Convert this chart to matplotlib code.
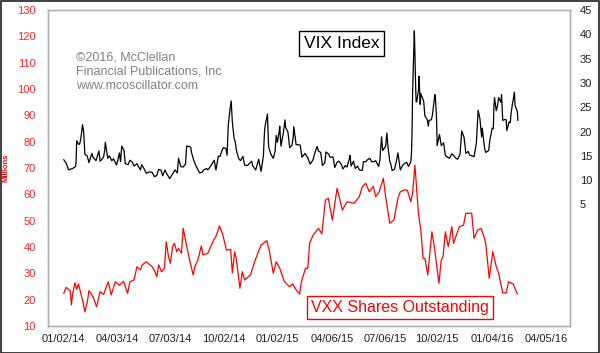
import matplotlib
matplotlib.use("Agg")
import matplotlib.pyplot as plt
import matplotlib.dates as mdates
from matplotlib.patches import Rectangle
import pandas as pd

plt.rcParams['font.family'] = ['Liberation Sans', 'DejaVu Sans']

# ---------------- data ----------------
vix_dates = [
    "2014-01-02","2014-01-06","2014-01-08","2014-01-10","2014-01-14","2014-01-17","2014-01-22","2014-01-23",
    "2014-01-24","2014-01-27","2014-01-29","2014-01-31","2014-02-03","2014-02-05","2014-02-07","2014-02-11",
    "2014-02-14","2014-02-19","2014-02-21","2014-02-26","2014-03-03","2014-03-05","2014-03-07","2014-03-11",
    "2014-03-13","2014-03-14","2014-03-18","2014-03-21","2014-03-25","2014-03-28","2014-04-02","2014-04-04",
    "2014-04-07","2014-04-09","2014-04-11","2014-04-15","2014-04-17","2014-04-22","2014-04-25","2014-04-29",
    "2014-05-02","2014-05-07","2014-05-09","2014-05-13","2014-05-15","2014-05-19","2014-05-23","2014-05-28",
    "2014-06-02","2014-06-06","2014-06-10","2014-06-13","2014-06-17","2014-06-20","2014-06-24","2014-06-27",
    "2014-07-02","2014-07-07","2014-07-11","2014-07-15","2014-07-17","2014-07-21","2014-07-25","2014-07-29",
    "2014-07-31","2014-08-01","2014-08-05","2014-08-07","2014-08-08","2014-08-12","2014-08-15","2014-08-19",
    "2014-08-22","2014-08-26","2014-08-29","2014-09-03","2014-09-05","2014-09-10","2014-09-12","2014-09-16",
    "2014-09-19","2014-09-23","2014-09-26","2014-09-30","2014-10-02","2014-10-06","2014-10-08","2014-10-10",
    "2014-10-13","2014-10-15","2014-10-17","2014-10-20","2014-10-22","2014-10-24","2014-10-28","2014-10-31",
    "2014-11-04","2014-11-07","2014-11-12","2014-11-14","2014-11-19","2014-11-21","2014-11-26","2014-12-01",
    "2014-12-05","2014-12-09","2014-12-11","2014-12-12","2014-12-16","2014-12-18","2014-12-22","2014-12-26",
    "2014-12-29","2014-12-31",
    "2015-01-02","2015-01-05","2015-01-06","2015-01-08","2015-01-12","2015-01-15","2015-01-16","2015-01-20",
    "2015-01-23","2015-01-27","2015-01-29","2015-01-30","2015-02-03","2015-02-06","2015-02-10","2015-02-13",
    "2015-02-18","2015-02-23","2015-02-27","2015-03-04","2015-03-06","2015-03-10","2015-03-11","2015-03-13",
    "2015-03-17","2015-03-20","2015-03-24","2015-03-26","2015-03-31","2015-04-02","2015-04-07","2015-04-10",
    "2015-04-14","2015-04-17","2015-04-21","2015-04-24","2015-04-28","2015-05-01","2015-05-05","2015-05-06",
    "2015-05-08","2015-05-12","2015-05-15","2015-05-19","2015-05-22","2015-05-27","2015-05-29","2015-06-02",
    "2015-06-05","2015-06-09","2015-06-12","2015-06-16","2015-06-19","2015-06-24","2015-06-26","2015-06-29",
    "2015-07-01","2015-07-06","2015-07-08","2015-07-10","2015-07-13","2015-07-15","2015-07-17","2015-07-21",
    "2015-07-24","2015-07-27","2015-07-31","2015-08-04","2015-08-07","2015-08-11","2015-08-14","2015-08-18",
    "2015-08-19","2015-08-20","2015-08-21","2015-08-24","2015-08-25","2015-08-26","2015-08-27","2015-08-28",
    "2015-08-31","2015-09-01","2015-09-03","2015-09-04","2015-09-09","2015-09-11","2015-09-15","2015-09-17",
    "2015-09-18","2015-09-22","2015-09-24","2015-09-28","2015-09-29","2015-10-01","2015-10-02","2015-10-06",
    "2015-10-09","2015-10-13","2015-10-16","2015-10-20","2015-10-23","2015-10-27","2015-10-30","2015-11-03",
    "2015-11-06","2015-11-10","2015-11-13","2015-11-17","2015-11-20","2015-11-24","2015-11-27","2015-12-01",
    "2015-12-04","2015-12-08","2015-12-11","2015-12-14","2015-12-17","2015-12-18","2015-12-22","2015-12-24",
    "2015-12-29","2015-12-31",
    "2016-01-04","2016-01-06","2016-01-07","2016-01-08","2016-01-11","2016-01-13","2016-01-15","2016-01-19",
    "2016-01-20","2016-01-22","2016-01-26","2016-01-28","2016-01-29","2016-02-02","2016-02-04","2016-02-05",
    "2016-02-08","2016-02-09","2016-02-11","2016-02-12","2016-02-16","2016-02-17",
]
vix_values = [
    14.2, 13.5, 12.9, 12.1, 12.3, 12.4, 12.8, 13.8,
    18.1, 17.4, 17.4, 18.4, 21.4, 19.9, 15.3, 15.0,
    13.6, 15.5, 14.7, 14.0, 16.0, 13.9, 14.1, 14.8,
    16.2, 17.8, 14.5, 15.0, 14.0, 14.4, 13.1, 13.9,
    15.6, 13.8, 17.0, 16.1, 13.4, 13.2, 14.1, 13.7,
    12.9, 13.4, 12.9, 12.1, 13.2, 12.4, 11.4, 11.7,
    11.6, 10.7, 11.0, 12.2, 12.1, 10.9, 12.1, 11.3,
    10.3, 11.3, 12.1, 11.5, 14.5, 12.8, 12.7, 13.3,
    17.0, 17.0, 16.9, 16.7, 15.8, 14.1, 13.2, 12.2,
    11.5, 11.6, 12.1, 12.4, 12.1, 12.9, 13.3, 14.1,
    12.1, 14.9, 14.9, 16.3, 16.7, 16.5, 15.1, 21.2,
    24.6, 26.3, 22.0, 18.6, 17.9, 16.1, 14.4, 14.0,
    14.9, 13.1, 13.0, 13.3, 13.9, 12.9, 12.1, 14.3,
    11.8, 14.9, 20.1, 21.1, 23.6, 16.8, 15.3, 14.5,
    15.9, 19.2,
    17.8, 19.9, 21.1, 17.0, 19.6, 22.4, 20.9, 19.9,
    16.7, 17.2, 18.8, 21.0, 17.3, 17.3, 17.2, 14.7,
    15.5, 14.6, 13.3, 14.2, 15.2, 16.7, 16.9, 16.0,
    15.7, 13.0, 13.6, 15.8, 15.3, 14.7, 14.8, 12.6,
    13.7, 13.9, 13.3, 12.3, 13.0, 12.7, 14.4, 15.1,
    12.9, 13.9, 12.4, 12.9, 12.1, 12.0, 13.8, 13.8,
    14.2, 14.5, 13.8, 13.8, 14.0, 12.8, 14.0, 18.9,
    16.1, 17.0, 19.7, 16.8, 13.9, 13.2, 12.0, 12.2,
    13.7, 15.6, 12.1, 13.0, 13.4, 13.7, 12.8, 13.8,
    15.3, 19.1, 28.0, 40.7, 36.0, 30.3, 26.1, 26.1,
    28.4, 31.4, 25.6, 27.8, 26.2, 23.2, 22.5, 21.1,
    22.3, 22.4, 23.5, 27.6, 26.8, 22.6, 17.1, 19.4,
    17.1, 17.7, 15.1, 14.7, 14.5, 15.4, 15.1, 14.5,
    14.3, 15.3, 20.1, 18.8, 15.5, 15.9, 15.1, 15.0,
    14.8, 17.6, 24.4, 22.7, 18.9, 20.7, 16.6, 15.7,
    16.1, 18.2,
    20.7, 20.6, 25.0, 27.0, 24.3, 25.2, 27.0, 26.0,
    27.6, 22.3, 22.5, 22.4, 20.2, 22.0, 21.8, 23.4,
    26.0, 26.5, 28.1, 25.4, 24.1, 22.3,
]

vxx_dates = [
    "2014-01-02","2014-01-06","2014-01-13","2014-01-15","2014-01-17","2014-01-21","2014-01-24","2014-01-27",
    "2014-02-03","2014-02-07","2014-02-11","2014-02-14","2014-02-21","2014-02-27","2014-03-05","2014-03-11",
    "2014-03-19","2014-03-24","2014-03-31","2014-04-07","2014-04-14","2014-04-21","2014-04-25","2014-05-02",
    "2014-05-07","2014-05-13","2014-05-16","2014-05-23","2014-06-02","2014-06-06","2014-06-10","2014-06-13",
    "2014-06-18","2014-06-23","2014-06-26","2014-06-30","2014-07-03","2014-07-07","2014-07-10","2014-07-14",
    "2014-07-17","2014-07-22","2014-07-25","2014-07-30","2014-08-04","2014-08-11","2014-08-14","2014-08-19",
    "2014-08-25","2014-08-28","2014-09-05","2014-09-15","2014-09-19","2014-09-25","2014-09-30","2014-10-07",
    "2014-10-14","2014-10-17","2014-10-21","2014-10-24","2014-10-30","2014-11-03","2014-11-07","2014-11-17",
    "2014-11-25","2014-12-05","2014-12-15","2014-12-19","2014-12-26","2014-12-31",
    "2015-01-06","2015-01-14","2015-01-23","2015-01-28","2015-02-03","2015-02-09","2015-02-12","2015-02-19",
    "2015-02-23","2015-02-26","2015-03-04","2015-03-13","2015-03-19","2015-03-25","2015-03-30","2015-04-06",
    "2015-04-14","2015-04-23","2015-05-01","2015-05-13","2015-05-22","2015-05-27","2015-06-02","2015-06-08",
    "2015-06-15","2015-06-19","2015-06-25","2015-07-02","2015-07-06","2015-07-13","2015-07-20","2015-07-27",
    "2015-07-31","2015-08-06","2015-08-12","2015-08-18","2015-08-21","2015-08-25","2015-08-31","2015-09-04",
    "2015-09-08","2015-09-11","2015-09-16","2015-09-23","2015-09-28","2015-10-05","2015-10-09","2015-10-12",
    "2015-10-16","2015-10-21","2015-10-27","2015-10-30","2015-11-03","2015-11-09","2015-11-16","2015-11-20",
    "2015-11-30","2015-12-04","2015-12-10","2015-12-16","2015-12-21","2015-12-24","2015-12-30",
    "2016-01-05","2016-01-11","2016-01-15","2016-01-22","2016-01-28","2016-02-01","2016-02-09","2016-02-16",
]
vxx_values = [
    22.4, 24.7, 23.3, 18.0, 22.0, 26.4, 23.9, 26.0,
    19.9, 15.4, 18.9, 23.4, 21.1, 17.3, 23.0, 22.0,
    26.8, 21.8, 26.8, 25.5, 27.0, 22.4, 26.8, 27.5,
    32.5, 31.3, 33.2, 34.4, 32.5, 31.0, 28.7, 33.2,
    30.6, 32.0, 42.0, 36.3, 33.8, 40.1, 41.4, 38.2,
    39.5, 37.6, 47.1, 41.4, 36.0, 29.4, 32.5, 35.0,
    40.4, 37.0, 37.6, 42.6, 44.0, 48.0, 45.2, 38.8,
    39.1, 30.2, 38.2, 35.0, 24.3, 30.6, 27.5, 29.4,
    35.0, 40.7, 42.4, 38.8, 30.0, 34.4,
    31.9, 26.8, 24.9, 26.0, 23.7, 22.1, 26.8, 31.9,
    32.0, 41.4, 44.5, 47.1, 45.0, 57.8, 58.5, 50.2,
    62.3, 54.0, 57.2, 56.6, 59.1, 62.9, 64.2, 61.0,
    63.0, 59.1, 61.0, 66.1, 59.1, 49.0, 50.2, 58.5,
    61.0, 61.6, 61.6, 57.2, 60.4, 71.1, 52.8, 46.4,
    35.7, 35.7, 29.4, 45.8, 38.8, 26.2, 35.0, 36.3,
    45.8, 40.1, 47.7, 41.4, 44.0, 47.7, 48.3, 52.8,
    52.8, 43.3, 46.4, 47.1, 43.9, 41.4, 28.1,
    38.2, 32.5, 30.0, 22.6, 22.6, 26.8, 25.9, 22.1,
]

left_ticks = [10, 20, 30, 40, 50, 60, 70, 80, 90, 100, 110, 120, 130]
right_ticks = [5, 10, 15, 20, 25, 30, 35, 40, 45]
x_tick_dates = ["2014-01-02", "2014-04-03", "2014-07-03", "2014-10-02", "2015-01-02",
                "2015-04-06", "2015-07-06", "2015-10-02", "2016-01-04", "2016-04-05"]

# ---------------- figure ----------------
W, H = 600, 353
fig = plt.figure(figsize=(W / 100, H / 100), dpi=100, facecolor="white")
ax = fig.add_axes([48 / W, 1 - 326 / H, (570 - 48) / W, (326 - 10) / H])
ax2 = ax.twinx()

vd = pd.to_datetime(vix_dates)
xd = pd.to_datetime(vxx_dates)

ax.plot(xd, vxx_values, color="#FF0000", lw=0.9, zorder=2)
ax2.plot(vd, vix_values, color="black", lw=0.9, zorder=3)

ax.set_ylim(10, 130)
ax2.set_ylim(-20, 45)
ax.set_xlim(pd.Timestamp("2013-12-06"), pd.Timestamp("2016-05-16"))

ax.set_yticks(left_ticks)
ax.set_yticklabels([str(t) for t in left_ticks])
ax2.set_yticks(right_ticks)
ax2.set_yticklabels([str(t) for t in right_ticks])

xt = pd.to_datetime(x_tick_dates)
ax.set_xticks(xt)
ax.set_xticklabels([d.strftime("%m/%d/%y") for d in xt])

ax.tick_params(axis="y", length=0, pad=9, labelsize=8, labelcolor="#FF2020")
ax2.tick_params(axis="y", length=0, pad=7, labelsize=8, labelcolor="#202020")
ax.tick_params(axis="x", length=0, pad=6, labelsize=8, labelcolor="#202020")

for a in (ax, ax2):
    for s in a.spines.values():
        s.set_color("#B0B0B0")
        s.set_linewidth(1.0)

fig.text(6 / W, 1 - 168 / H, "Millions", rotation=90, color="#FF0000",
         fontsize=5.5, fontweight="bold", ha="center", va="center")

ax.text(76 / W, 1 - 51 / H,
        "\u00a92016, McClellan\nFinancial Publications, Inc\nwww.mcoscillator.com",
        transform=fig.transFigure, color="#808080", fontsize=9, ha="left", va="top",
        linespacing=1.3)

fig.text(341.7 / W, 1 - 43.5 / H, "VIX Index", color="black", fontsize=12.5,
         ha="center", va="center",
         bbox=dict(boxstyle="square,pad=0.28", facecolor="white", edgecolor="black", lw=1))

fig.text(400 / W, 1 - 307.5 / H, "VXX Shares Outstanding", color="#FF0000", fontsize=11.5,
         ha="center", va="center",
         bbox=dict(boxstyle="square,pad=0.25", facecolor="white", edgecolor="#FF0000", lw=1))

fig.patches.append(Rectangle((0.5 / W, 0.5 / H), 1 - 1.5 / W, 1 - 1.5 / H, transform=fig.transFigure,
                             fill=False, edgecolor="#202020", lw=1.2))

fig.savefig("out.png", dpi=100, facecolor="white")
